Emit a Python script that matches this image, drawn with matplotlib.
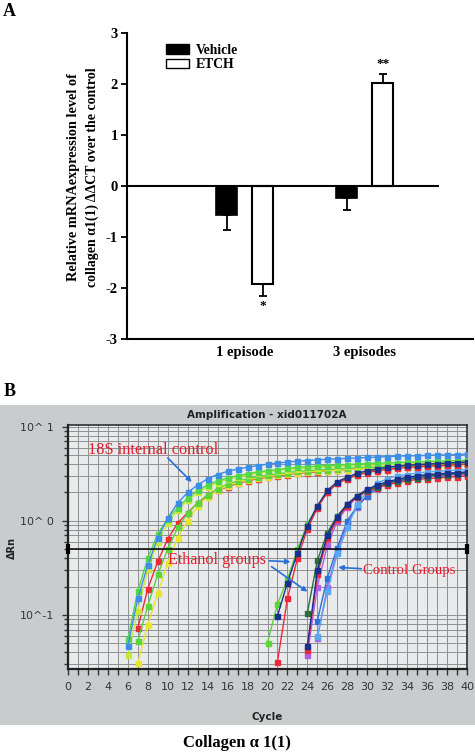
import numpy as np
import matplotlib
matplotlib.use('Agg')
import matplotlib.pyplot as plt
from matplotlib.patches import Rectangle, Patch
from matplotlib.ticker import FixedLocator, NullFormatter, MultipleLocator

# ---------------- Panel A data ----------------
groups = ['1 episode', '3 episodes']
series_names = ['Vehicle', 'ETCH']
vehicle = [-0.57, -0.24]
vehicle_err = [0.30, 0.23]
etch = [-1.93, 2.01]
etch_err = [0.22, 0.18]
etch_sig = ['*', '**']
yticks_a = [-3, -2, -1, 0, 1, 2, 3]

# ---------------- Panel B data (amplification curves, dRn per cycle) ----------------
cycle_ticks = list(range(0, 41, 2))
ytick_b_vals = [0.1, 1, 10]
ytick_b_labels = ['10^-1', '10^ 0', '10^ 1']
threshold = 0.5

# 18S internal control
s18_blue_start = 6
s18_blue = [0.047, 0.15, 0.34, 0.66, 1.07, 1.55, 2.0, 2.4, 2.8, 3.1, 3.35, 3.55, 3.7, 3.85, 4.0, 4.1, 4.2, 4.3,
            4.35, 4.45, 4.5, 4.55, 4.6, 4.65, 4.7, 4.75, 4.8, 4.85, 4.9, 4.9, 4.95, 5.0, 5.0, 5.05, 5.1]
s18_green_start = 6
s18_green = [0.055, 0.18, 0.40, 0.73, 1.05, 1.37, 1.75, 2.1, 2.4, 2.65, 2.85, 3.0, 3.15, 3.3, 3.4, 3.5, 3.6, 3.7,
             3.75, 3.8, 3.85, 3.9, 3.95, 4.0, 4.05, 4.1, 4.1, 4.15, 4.2, 4.2, 4.25, 4.3, 4.3, 4.35, 4.4]
s18_lime_start = 6
s18_lime = [0.038, 0.11, 0.31, 0.6, 0.95, 1.3, 1.65, 2.0, 2.3, 2.55, 2.75, 2.9, 3.05, 3.2, 3.3, 3.4, 3.5, 3.55,
            3.6, 3.65, 3.7, 3.75, 3.8, 3.85, 3.9, 3.9, 3.95, 4.0, 4.0, 4.05, 4.1, 4.1, 4.15, 4.2, 4.2]
s18_red_start = 7
s18_red = [0.073, 0.19, 0.37, 0.64, 0.95, 1.22, 1.55, 1.84, 2.1, 2.3, 2.5, 2.65, 2.8, 2.9, 3.0, 3.1, 3.2, 3.25,
           3.3, 3.4, 3.45, 3.5, 3.55, 3.6, 3.6, 3.65, 3.7, 3.7, 3.75, 3.8, 3.8, 3.85, 3.85, 3.9]
s18_green2_start = 7
s18_green2 = [0.053, 0.125, 0.27, 0.5, 0.85, 1.2, 1.55, 1.9, 2.2, 2.45, 2.65, 2.8, 2.95, 3.05, 3.15, 3.25, 3.35,
              3.4, 3.45, 3.5, 3.55, 3.6, 3.65, 3.7, 3.7, 3.75, 3.8, 3.8, 3.85, 3.9, 3.9, 3.95, 3.95, 4.0]
s18_yellow_start = 7
s18_yellow = [0.031, 0.079, 0.17, 0.36, 0.66, 1.0, 1.44, 1.8, 2.1, 2.35, 2.55, 2.7, 2.85, 2.95, 3.05, 3.15, 3.25,
              3.3, 3.35, 3.4, 3.45, 3.5, 3.55, 3.6, 3.6, 3.65, 3.7, 3.7, 3.75, 3.8, 3.8, 3.85, 3.85, 3.9]

# Ethanol groups (early)
eth_green_start = 20
eth_green = [0.051, 0.13, 0.24, 0.50, 0.93, 1.44, 2.0, 2.5, 2.8, 3.1, 3.3, 3.45, 3.6, 3.7, 3.8, 3.9, 3.95, 4.0,
             4.05, 4.1, 4.15]
eth_navy_start = 21
eth_navy = [0.098, 0.22, 0.46, 0.89, 1.44, 2.1, 2.6, 2.9, 3.2, 3.4, 3.55, 3.7, 3.8, 3.9, 3.95, 4.0, 4.05, 4.1,
            4.15, 4.2]
eth_red_start = 21
eth_red = [0.032, 0.15, 0.40, 0.82, 1.37, 2.0, 2.5, 2.8, 3.05, 3.25, 3.4, 3.5, 3.6, 3.7, 3.75, 3.8, 3.85, 3.9,
           3.95, 4.0]
# Ethanol groups (late)
eth2_dgreen_start = 24
eth2_dgreen = [0.106, 0.38, 0.75, 1.13, 1.5, 1.85, 2.1, 2.3, 2.5, 2.65, 2.75, 2.85, 2.95, 3.05, 3.1, 3.15, 3.2]
eth2_navy_start = 24
eth2_navy = [0.047, 0.30, 0.70, 1.1, 1.5, 1.85, 2.15, 2.4, 2.6, 2.75, 2.9, 3.0, 3.1, 3.15, 3.2, 3.25, 3.3]
eth2_red_start = 24
eth2_red = [0.043, 0.27, 0.65, 1.05, 1.45, 1.8, 2.05, 2.25, 2.4, 2.55, 2.65, 2.75, 2.8, 2.85, 2.9, 2.95, 3.0]

# Control groups
ctl_purple_start = 24
ctl_purple = [0.038, 0.2, 0.55, 1.0, 1.4, 1.8, 2.1, 2.35, 2.55, 2.7, 2.8, 2.9, 2.95, 3.0, 3.05, 3.1, 3.1]
ctl_violet_start = 25
ctl_violet = [0.057, 0.2, 0.48, 0.95, 1.4, 1.85, 2.2, 2.45, 2.65, 2.8, 2.9, 3.0, 3.05, 3.1, 3.15, 3.2]
ctl_blue_start = 25
ctl_blue = [0.087, 0.25, 0.52, 1.0, 1.44, 1.85, 2.26, 2.5, 2.7, 2.85, 2.95, 3.05, 3.1, 3.15, 3.2, 3.25]
ctl_lblue_start = 25
ctl_lblue = [0.06, 0.18, 0.45, 0.85, 1.5, 2.05, 2.5, 2.8, 3.0, 3.1, 3.2, 3.3, 3.35, 3.4, 3.45, 3.5]

curves = [
    (s18_red_start, s18_red, '#ee2a3a'),
    (s18_yellow_start, s18_yellow, '#e6e62e'),
    (s18_green2_start, s18_green2, '#5cd43a'),
    (s18_lime_start, s18_lime, '#c8e83a'),
    (s18_green_start, s18_green, '#52d846'),
    (s18_blue_start, s18_blue, '#3d8ee8'),
    (ctl_purple_start, ctl_purple, '#b060e6'),
    (ctl_violet_start, ctl_violet, '#9a6ae8'),
    (ctl_blue_start, ctl_blue, '#3070da'),
    (ctl_lblue_start, ctl_lblue, '#5aa8f2'),
    (eth2_red_start, eth2_red, '#ee2a3a'),
    (eth2_dgreen_start, eth2_dgreen, '#2c6e3a'),
    (eth2_navy_start, eth2_navy, '#1b2f8c'),
    (eth_green_start, eth_green, '#5cd43a'),
    (eth_red_start, eth_red, '#ee2a3a'),
    (eth_navy_start, eth_navy, '#1b2f8c'),
]

W, H = 475, 754
fig = plt.figure(figsize=(W / 100, H / 100), dpi=100)
fig.patch.set_facecolor('white')

serif = 'Liberation Serif'

def fx(px):
    return px / W

def fy(py):
    return 1 - py / H

# ---------------- Panel A ----------------
axA = fig.add_axes([fx(127), fy(339), fx(473) - fx(127), fy(33) - fy(339)])
x = np.arange(len(groups))
off, bw = 0.15, 0.175
vb = axA.bar(x - off, vehicle, bw, color='black', edgecolor='black', lw=1.2, label=series_names[0], zorder=3)
eb = axA.bar(x + off, etch, bw, color='white', edgecolor='black', lw=1.5, label=series_names[1], zorder=3)

def one_sided(vals, errs):
    lo = [e if v < 0 else 0 for v, e in zip(vals, errs)]
    hi = [e if v >= 0 else 0 for v, e in zip(vals, errs)]
    return [lo, hi]

axA.errorbar(x - off, vehicle, yerr=one_sided(vehicle, vehicle_err), fmt='none', ecolor='black',
             elinewidth=1.3, capsize=3.2, capthick=1.3, zorder=2)
axA.errorbar(x + off, etch, yerr=one_sided(etch, etch_err), fmt='none', ecolor='black',
             elinewidth=1.3, capsize=3.2, capthick=1.3, zorder=2)
for xi, v, e, s in zip(x + off, etch, etch_err, etch_sig):
    sgn = 1 if v >= 0 else -1
    axA.text(xi, v + sgn * (e + 0.2), s, ha='center', va='center', fontsize=9.5, fontweight='bold',
             family=serif)

axA.axhline(0, xmin=0, xmax=(438 - 127) / 346, color='black', lw=1.5, zorder=4)
axA.set_xlim(-0.983, 1.9)
axA.set_ylim(-3, 3)
axA.set_yticks(yticks_a)
axA.set_yticklabels([str(t) for t in yticks_a])
axA.set_xticks(x)
axA.set_xticklabels(groups)
axA.tick_params(axis='x', length=0, pad=5)
axA.tick_params(axis='y', length=4.5, width=1.3, pad=2)
for lab in axA.get_xticklabels() + axA.get_yticklabels():
    lab.set_fontfamily(serif)
    lab.set_fontweight('bold')
    lab.set_fontsize(10.5)
for sp in ['top', 'right']:
    axA.spines[sp].set_visible(False)
for sp in ['left', 'bottom']:
    axA.spines[sp].set_linewidth(1.5)

leg = axA.legend(handles=[Patch(facecolor='black', edgecolor='black', label=series_names[0]),
                          Patch(facecolor='white', edgecolor='black', lw=1.0, label=series_names[1])],
                 loc='upper left', bbox_to_anchor=(0.078, 1.005), frameon=False,
                 handlelength=1.65, handleheight=0.72, labelspacing=0.12, handletextpad=0.5,
                 prop={'family': serif, 'weight': 'bold', 'size': 9.8})

fig.text(fx(9), fy(12), 'A', fontsize=13, fontweight='bold', family=serif, ha='center', va='center')
fig.text(fx(74), fy(177), 'Relative mRNAexpression level of', rotation=90, fontsize=10.3,
         fontweight='bold', family=serif, ha='center', va='center')
fig.text(fx(92), fy(177), 'collagen \u03b11(1) \u0394\u0394CT over the control', rotation=90, fontsize=10.0,
         fontweight='bold', family=serif, ha='center', va='center')

# ---------------- Panel B ----------------
fig.patches.append(Rectangle((0, fy(725)), 1, fy(405) - fy(725), transform=fig.transFigure,
                             facecolor='#c9cccd', edgecolor='none', zorder=-10))
fig.text(fx(10), fy(392), 'B', fontsize=13, fontweight='bold', family=serif, ha='center', va='center')

axB = fig.add_axes([fx(68), fy(669), fx(467) - fx(68), fy(425) - fy(669)])
axB.set_zorder(2)
axB.set_facecolor('#e8eaeb')
axB.set_yscale('log')
axB.set_xlim(0, 40)
axB.set_ylim(0.0267, 10.4)

axB.xaxis.set_minor_locator(MultipleLocator(1))
axB.set_xticks(cycle_ticks)
axB.set_xticklabels([str(c) for c in cycle_ticks])
axB.set_yticks(ytick_b_vals)
axB.set_yticklabels(ytick_b_labels)
minor_y = [m * 10.0 ** d for d in (-2, -1, 0, 1) for m in range(2, 10)]
axB.yaxis.set_minor_locator(FixedLocator(minor_y))
axB.yaxis.set_minor_formatter(NullFormatter())
axB.grid(True, which='both', axis='both', color='#8e9092', lw=0.7, zorder=0)
axB.set_axisbelow(True)
axB.tick_params(axis='both', which='both', direction='out', colors='#333333', labelsize=8,
                width=1.0)
axB.tick_params(axis='x', which='major', length=4, pad=5)
axB.tick_params(axis='x', which='minor', length=4)
axB.tick_params(axis='y', which='major', length=4, pad=6)
axB.tick_params(axis='y', which='minor', length=3)
for sp in axB.spines.values():
    sp.set_color('#222222')
    sp.set_linewidth(1.1)
axB.spines['left'].set_linewidth(1.6)
axB.spines['bottom'].set_linewidth(1.6)

for start, vals, col in curves:
    cyc = np.arange(start, start + len(vals))
    axB.plot(cyc, vals, '-', color=col, lw=1.0, marker='s', ms=3.6, mec=col, mfc=col, zorder=3)

axB.axhline(threshold, color='black', lw=1.1, zorder=4)
axB.plot([0, 40], [threshold, threshold], ls='none', marker='|', ms=7, mew=3, color='black',
         clip_on=False, zorder=5)

red_txt = '#e41e2c'
arrow_col = '#2b6fd8'
akw = dict(arrowstyle='-|>', color=arrow_col, lw=1.2, mutation_scale=7, shrinkA=0, shrinkB=0)
axB.text(2.0, 5.6, '18S internal control', color=red_txt, fontsize=11.8, family=serif,
         ha='left', va='center', zorder=6)
axB.annotate('', xy=(12.4, 2.58), xytext=(10.0, 4.64), arrowprops=akw, zorder=6)
axB.text(10.0, 0.384, 'Ethanol groups', color=red_txt, fontsize=11.6, family=serif,
         ha='left', va='center', zorder=6)
axB.annotate('', xy=(22.3, 0.367), xytext=(20.2, 0.376), arrowprops=akw, zorder=6)
axB.annotate('', xy=(24.0, 0.177), xytext=(20.4, 0.326), arrowprops=akw, zorder=6)
axB.text(29.6, 0.30, 'Control Groups', color=red_txt, fontsize=10.6, family=serif,
         ha='left', va='center', zorder=6)
axB.annotate('', xy=(27.1, 0.32), xytext=(29.4, 0.31), arrowprops=akw, zorder=6)

fig.text(fx(267), fy(415), 'Amplification - xid011702A', fontsize=7.5, fontweight='bold',
         color='#222222', ha='center', va='center')
fig.text(fx(12), fy(548), '\u0394Rn', rotation=90, fontsize=7, fontweight='bold', color='#222222',
         ha='center', va='center')
fig.text(fx(267), fy(717), 'Cycle', fontsize=7.5, fontweight='bold', color='#222222',
         ha='center', va='center')
fig.text(fx(237), fy(743), 'Collagen \u03b1 1(1)', fontsize=12, fontweight='bold', family=serif,
         ha='center', va='center')

fig.savefig('out.png', dpi=100)
